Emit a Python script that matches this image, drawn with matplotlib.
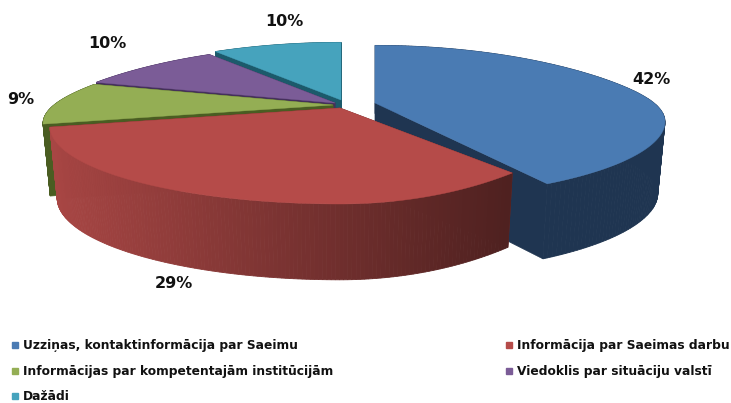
import numpy as np
import matplotlib
matplotlib.use('Agg')
import matplotlib.pyplot as plt
from matplotlib.colors import to_rgb

labels = ['Uzziņas, kontaktinformācija par Saeimu', 'Informācija par Saeimas darbu',
          'Informācijas par kompetentajām institūcijām', 'Viedoklis par situāciju valstī', 'Dažādi']
values = [42, 29, 9, 10, 10]
top_colors = ['#4a7bb3', '#b54b49', '#94ae54', '#7b5c97', '#46a3bd']
wall_colors = ['#1f3551', '#7a302e', '#4a5d22', '#45305c', '#1c5a6b']

# pixel layout of the fake 3d pie
apex = [(375, 103), (340, 108), (333, 105), (335, 103), (341, 100)]
label_pos = [(651, 79), (174, 283), (21, 100), (107, 44), (284, 22)]
legend_pos = [(11, 345), (505, 345), (11, 371), (505, 371), (11, 396)]

W, H = 731, 403
A, B = 279, 72
DEPTH = 71
RED_LIFT = 68  # red rim rises faster on the right than the blue one


def project(angle, ap, lift=0):
    # angle in degrees clockwise from 12 o'clock, radius 1
    a = np.radians(angle)
    x, y = np.sin(a), np.cos(a)
    q = 0.315 + 0.065 * np.tanh(3 * y)
    sx = ap[0] + A * x / (1 + q * y)
    sy = ap[1] - B * y / (1 + 0.25 * y) - lift * np.clip(x, 0, 1) ** 2
    return sx, sy


def lower(sx, sy, ap):
    # same point on the bottom face of the pie
    return ap[0] + (sx - ap[0]) * 0.975, ap[1] + DEPTH + (sy - ap[1]) * 1.05


def mix(c, f):
    return tuple(np.array(to_rgb(c)) * f)


fig = plt.figure(figsize=(W / 100, H / 100), dpi=100)
ax = fig.add_axes([0, 0, 1, 1])
ax.set_xlim(0, W)
ax.set_ylim(H, 0)
ax.axis('off')

edges = np.cumsum([0] + values) * 3.6

# back slices first, the red one has to end up over the blue wall
for i in [4, 3, 2, 0, 1]:
    ap = apex[i]
    ang = np.linspace(edges[i], edges[i + 1], 160)
    sx, sy = project(ang, ap, RED_LIFT if i == 1 else 0)
    bx, by = lower(sx, sy, ap)
    low_x, low_y = lower(ap[0], ap[1], ap)
    # cut walls
    ax.fill([ap[0], sx[0], bx[0], low_x], [ap[1], sy[0], by[0], low_y], color=wall_colors[i], lw=0.5)
    ax.fill([ap[0], sx[-1], bx[-1], low_x], [ap[1], sy[-1], by[-1], low_y], color=wall_colors[i], lw=0.5)
    # outer wall, strip by strip because of the shading
    for k in range(len(ang) - 1):
        if i == 1:
            f = np.interp(sx[k], [49, 510], [1.0, 0.47])
            c = mix('#a84644', f)
        else:
            c = wall_colors[i]
        ax.fill([sx[k], sx[k + 1], bx[k + 1], bx[k]], [sy[k], sy[k + 1], by[k + 1], by[k]],
                color=c, lw=0.6)
    ax.fill(np.r_[ap[0], sx], np.r_[ap[1], sy], color=top_colors[i], lw=0.3)

for i, v in enumerate(values):
    ax.text(label_pos[i][0], label_pos[i][1], '%d%%' % v, ha='center', va='center',
            fontsize=11.5, fontweight='semibold', family='DejaVu Sans', color='#111111')

for i, lab in enumerate(labels):
    x, y = legend_pos[i]
    ax.plot([x + 3.5], [y], marker='s', ms=4.8, color=top_colors[i], ls='none')
    ax.text(x + 12, y, lab, ha='left', va='center', fontsize=8.8, family='DejaVu Sans',
            fontweight='semibold', color='#111111')

fig.savefig('out.png', dpi=100)
